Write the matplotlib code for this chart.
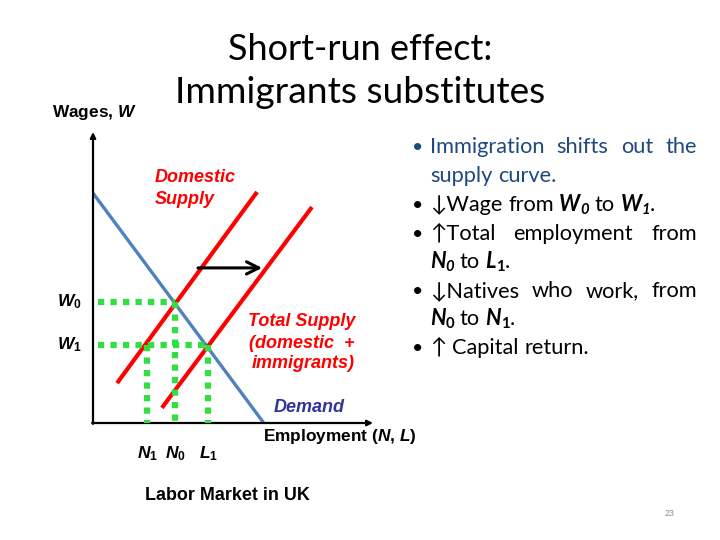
import numpy as np
import matplotlib.pyplot as plt

plt.rcParams['mathtext.fontset'] = 'custom'
plt.rcParams['mathtext.rm'] = 'Liberation Sans:bold'
plt.rcParams['mathtext.it'] = 'Liberation Sans:bold:italic'
plt.rcParams['mathtext.bf'] = 'Liberation Sans:bold'

# diagram data, both axes run 0..100
demand_x = [0, 61]
demand_y = [79, 0]
dom_x = [8.6, 58.6]
dom_y = [13.7, 79.4]
tot_x = [24.6, 78.2]
tot_y = [5.2, 74.2]
shift_y = 53.3
shift_from, shift_to = 37.5, 60.4
W0, W1 = 41.6, 26.8
N1, N0, L1 = 19.3, 29.3, 41.1
dot_start = 1.8

w_labels = ['$W_0$', '$W_1$']
n_labels = ['$N_1$', '$N_0$', '$L_1$']

# bullet text: each line is a list of words, each word a list of (text, style)
BLUE = '#1F497D'
bullet_lines = [
    (True, BLUE, True, [[('Immigration', '')], [('shifts', '')], [('out', '')], [('the', '')]]),
    (False, BLUE, False, [[('supply', '')], [('curve.', '')]]),
    (True, 'black', False, [[('\u2193Wage', '')], [('from', '')], [('W', 'bi'), ('0', 'bis')],
                            [('to', '')], [('W', 'bi'), ('1', 'bis'), ('.', '')]]),
    (True, 'black', True, [[('\u2191Total', '')], [('employment', '')], [('from', '')]]),
    (False, 'black', False, [[('N', 'bi'), ('0', 'bis')], [('to', '')], [('L', 'bi'), ('1', 'bs'), ('.', '')]]),
    (True, 'black', True, [[('\u2193Natives', '')], [('who', '')], [('work,', '')], [('from', '')]]),
    (False, 'black', False, [[('N', 'bi'), ('0', 'bs')], [('to', '')], [('N', 'bi'), ('1', 'bs'), ('.', '')]]),
    (True, 'black', False, [[('\u2191', '')], [('Capital', '')], [('return.', '')]]),
]
baselines = [153, 182, 211, 240, 268, 297, 325, 354]

fig = plt.figure(figsize=(7.2, 5.4), dpi=100)
r = fig.canvas.get_renderer()


def P(x, y):
    return x / 720, 1 - y / 540


# axes placed so that 0..100 covers the drawn diagram
ax = fig.add_axes([93 / 720, 117 / 540, 280 / 720, 291 / 540])
ax.set_xlim(0, 100)
ax.set_ylim(0, 100)
ax.axis('off')

ax.annotate('', xy=(0, 100), xytext=(0, -0.3), arrowprops=dict(arrowstyle='-|>', lw=1.6, color='black', mutation_scale=8, shrinkA=0, shrinkB=0), annotation_clip=False)
ax.annotate('', xy=(100, 0), xytext=(-0.3, 0), arrowprops=dict(arrowstyle='-|>', lw=1.6, color='black', mutation_scale=8, shrinkA=0, shrinkB=0), annotation_clip=False)

ax.plot(demand_x, demand_y, color='#4F81BD', lw=2.4, solid_capstyle='butt', zorder=2)
ax.plot(dom_x, dom_y, color='#FF0000', lw=3, solid_capstyle='butt', zorder=3)
ax.plot(tot_x, tot_y, color='#FF0000', lw=3, solid_capstyle='butt', zorder=3)

dots = dict(color='#33DD44', lw=4.5, ls=(0, (1, 1)), dash_capstyle='butt', zorder=4, clip_on=False)
ax.plot([dot_start, N0], [W0, W0], **dots)
ax.plot([dot_start, L1], [W1, W1], **dots)
for n, top in [(N1, W1), (N0, W0), (L1, W1)]:
    ax.plot([n, n], [top, 0], **dots)

ax.annotate('', xy=(shift_to, shift_y), xytext=(shift_from, shift_y),
            arrowprops=dict(arrowstyle='->', lw=2.2, color='black', mutation_scale=22, shrinkA=0, shrinkB=0), zorder=5)

lab = dict(family='Liberation Sans', weight='bold', size=12.5, clip_on=False)
for w, s in zip([W0, W1], w_labels):
    ax.text(-8.6, w, s, ha='center', va='center', **lab)
for n, s in zip([N1, N0, L1], n_labels):
    ax.text(n, -10.5, s, ha='center', va='center', **lab)

axis_lab = dict(family='Liberation Sans', weight='bold', size=12.4, va='center', ha='left')
fig.text(*P(52, 113), 'Wages, $W$', **axis_lab)
fig.text(*P(263, 437), 'Employment ($N$, $L$)', **axis_lab)
fig.text(*P(145, 496), 'Labor Market in UK', family='Liberation Sans', weight='bold', size=12.9, va='center', ha='left')

red = dict(family='Liberation Sans', weight='bold', style='italic', size=13, color='#FF0000', va='center')
fig.text(*P(155, 178), 'Domestic', ha='left', **red)
fig.text(*P(155, 200), 'Supply', ha='left', **red)
fig.text(*P(302, 322), 'Total Supply', ha='center', **red)
fig.text(*P(302, 343), '(domestic  +', ha='center', **red)
fig.text(*P(303, 364), 'immigrants)', ha='center', **red)
fig.text(*P(274, 408), 'Demand', ha='left', family='Liberation Sans', weight='bold', style='italic', size=13, color='#333399', va='center')

fig.text(*P(670, 514), '23', ha='center', va='center', family='Liberation Sans', size=6.5, color='#8C8C8C')

# title, fitted to the widths seen on the slide
for txt, y, width in [('Short-run effect:', 60, 264), ('Immigrants substitutes', 103, 370)]:
    t = fig.text(*P(360, y), txt, ha='center', va='baseline', family='Lato', size=28)
    t.set_fontsize(28 * width / t.get_window_extent(r).width)

# bullets
BODY = ['Lato', 'DejaVu Sans']
probe = fig.text(0, 0, 'supply curve.', family=BODY, size=14)
SIZE = 14 * 127 / probe.get_window_extent(r).width
probe.remove()
x0, x1 = 430, 697


def make_word(runs, y, color):
    parts = []
    off = 0
    for txt, st in runs:
        sub = 's' in st
        t = fig.text(0, 1 - (y + (3 if sub else 0)) / 540, txt, family=BODY,
                     size=SIZE * (0.68 if sub else 1),
                     weight='bold' if 'b' in st else 'normal',
                     style='italic' if 'i' in st else 'normal',
                     color=color, ha='left', va='baseline')
        parts.append((t, off))
        off += t.get_window_extent(r).width
    return parts, off


probe = fig.text(0, 0, 'a a', family=BODY, size=SIZE)
probe2 = fig.text(0, 0, 'aa', family=BODY, size=SIZE)
space = probe.get_window_extent(r).width - probe2.get_window_extent(r).width
probe.remove()
probe2.remove()

for (bul, color, justify, words), y in zip(bullet_lines, baselines):
    if bul:
        fig.text(*P(412, y), '\u2022', family=BODY, size=SIZE * 0.9, color=color, ha='left', va='baseline')
    made = [make_word(w, y, color) for w in words]
    total = sum(m[1] for m in made)
    gap = (x1 - x0 - total) / (len(made) - 1) if justify else space
    x = x0
    for parts, width in made:
        for t, off in parts:
            t.set_x((x + off) / 720)
        x += width + gap

fig.savefig('out.png', dpi=100)
